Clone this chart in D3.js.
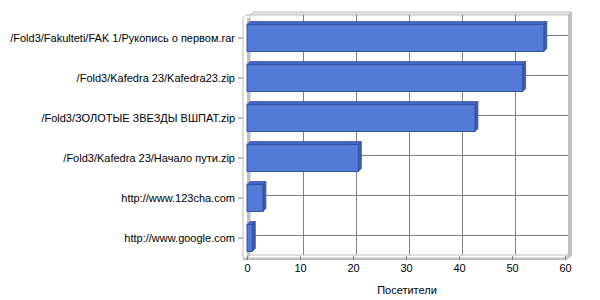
<!DOCTYPE html>
<html>
<head>
<meta charset="utf-8">
<script src="https://cdn.jsdelivr.net/npm/d3@7"></script>
<style>
  body { margin: 0; background: #fff; }
  text { font-family: "Liberation Sans", Arial, sans-serif; font-size: 11px; fill: #000; }
</style>
</head>
<body>
<div class="chart"></div>
<script>
// chart data
var categories = [
    "/Fold3/Fakulteti/FAK 1/Рукопись о первом.rar",
    "/Fold3/Kafedra 23/Kafedra23.zip",
    "/Fold3/ЗОЛОТЫЕ ЗВЕЗДЫ ВШПАТ.zip",
    "/Fold3/Kafedra 23/Начало пути.zip",
    "http://www.123cha.com",
    "http://www.google.com"
];
var visitors = [56, 52, 43, 21, 3, 1];
var xTicks = [0, 10, 20, 30, 40, 50, 60];
var xTitle = "Посетители";

var svgWidth = 600;
var svgHeight = 300;

// front plane of the 3d box, depth shifts things right and up
// (not called "top" - that one belongs to window)
var plotLeft = 247, plotRight = 565, plotTop = 18, plotBottom = 258;
var dx = 3, dy = -3;

var svg = d3.select(".chart")
    .append("svg")
    .attr("width", svgWidth)
    .attr("height", svgHeight);

var xScale = d3.scaleLinear().domain([0, 60]).range([plotLeft, plotRight]);
var yScale = d3.scaleBand().domain(categories).range([plotTop, plotBottom])
    .paddingInner(0.325).paddingOuter(0.1625);

var frame = svg.append("g");

// back wall
frame.append("rect")
    .attr("x", plotLeft + dx).attr("y", plotTop + dy)
    .attr("width", plotRight - plotLeft).attr("height", plotBottom - plotTop)
    .attr("fill", "#fff");

// top edge and right edge of the back wall (thickness)
frame.append("polygon")
    .attr("points", [[plotLeft + dx, plotTop + dy], [plotLeft + dx + 3, plotTop + dy - 3], [plotRight + dx + 4, plotTop + dy - 3], [plotRight + dx, plotTop + dy]].join(" "))
    .attr("fill", "#e4e4e4").attr("stroke", "#c0c0c0").attr("stroke-width", 1);
frame.append("polygon")
    .attr("points", [[plotRight + dx, plotTop + dy], [plotRight + dx + 4, plotTop + dy - 3], [plotRight + dx + 4, plotBottom + dy - 1], [plotRight + dx, plotBottom + dy + 2]].join(" "))
    .attr("fill", "#c0c0c0");

// vertical gridlines on the back wall
frame.selectAll(".vgrid")
    .data(xTicks.slice(1, -1))
    .enter()
    .append("line")
    .attr("x1", function (d) { return xScale(d) + dx + 0.5; })
    .attr("x2", function (d) { return xScale(d) + dx + 0.5; })
    .attr("y1", plotTop + dy)
    .attr("y2", plotBottom + dy)
    .attr("stroke", "#808080");

// horizontal gridlines at category centres
frame.selectAll(".hgrid")
    .data(categories)
    .enter()
    .append("line")
    .attr("x1", plotLeft + dx)
    .attr("x2", plotRight + dx)
    .attr("y1", function (d) { return Math.round(yScale(d) + yScale.bandwidth() / 2 + dy) + 0.5; })
    .attr("y2", function (d) { return Math.round(yScale(d) + yScale.bandwidth() / 2 + dy) + 0.5; })
    .attr("stroke", "#808080");

// left wall
frame.append("polygon")
    .attr("points", [[plotLeft - 4, plotTop], [plotLeft - 4 + dx, plotTop + dy], [plotLeft + dx, plotTop + dy], [plotLeft + dx, plotBottom + dy], [plotLeft, plotBottom], [plotLeft - 4, plotBottom]].join(" "))
    .attr("fill", "#fff").attr("stroke", "#c0c0c0");
frame.append("rect")
    .attr("x", plotLeft).attr("y", plotTop)
    .attr("width", dx).attr("height", plotBottom - plotTop)
    .attr("fill", "#c0c0c0");

// floor
frame.append("polygon")
    .attr("points", [[plotLeft, plotBottom], [plotLeft + dx, plotBottom + dy], [plotRight + dx, plotBottom + dy], [plotRight, plotBottom]].join(" "))
    .attr("fill", "#fff").attr("stroke", "#c0c0c0");
frame.append("polygon")
    .attr("points", [[plotLeft - 4, plotBottom], [plotRight, plotBottom], [plotRight + dx + 4, plotBottom + dy - 1], [plotRight + dx + 4, plotBottom + dy + 1], [plotRight + 1, plotBottom + 2], [plotLeft - 4, plotBottom + 2]].join(" "))
    .attr("fill", "#c0c0c0");

// bars
var bars = svg.selectAll(".bar")
    .data(visitors)
    .enter()
    .append("g")
    .attr("class", "bar");

bars.append("polygon")
    .attr("points", function (d, i) {
        var y0 = yScale(categories[i]), x1 = xScale(d);
        return [[plotLeft, y0], [plotLeft + dx, y0 + dy], [x1 + dx, y0 + dy], [x1, y0]].join(" ");
    })
    .attr("fill", "#4668c4").attr("stroke", "#3a58a8").attr("stroke-width", 0.8);

bars.append("polygon")
    .attr("points", function (d, i) {
        var y0 = yScale(categories[i]), y1 = y0 + yScale.bandwidth(), x1 = xScale(d);
        return [[x1, y0], [x1 + dx, y0 + dy], [x1 + dx, y1 + dy], [x1, y1]].join(" ");
    })
    .attr("fill", "#3b5aa8").attr("stroke", "#34509a").attr("stroke-width", 0.8);

bars.append("rect")
    .attr("x", plotLeft)
    .attr("y", function (d, i) { return yScale(categories[i]); })
    .attr("width", function (d) { return xScale(d) - plotLeft; })
    .attr("height", yScale.bandwidth())
    .attr("fill", "#517bd6")
    .attr("stroke", "#3552a4");

// category axis
var yAxis = d3.axisLeft(yScale).tickSize(5).tickPadding(3);
var yAxisG = svg.append("g")
    .attr("transform", `translate(${plotLeft - 4},0)`)
    .call(yAxis);
yAxisG.select(".domain").remove();
yAxisG.selectAll("line").attr("stroke", "#808080");
yAxisG.selectAll("text").attr("font-size", null).attr("font-family", null);

// value axis
var xAxis = d3.axisBottom(xScale).tickValues(xTicks).tickSize(4).tickPadding(4);
var xAxisG = svg.append("g")
    .attr("transform", `translate(0,${plotBottom - 2})`)
    .call(xAxis);
xAxisG.select(".domain").remove();
xAxisG.selectAll("line").attr("stroke", "#808080");
xAxisG.selectAll("text").attr("font-size", null).attr("font-family", null);

// axis title
svg.append("text")
    .attr("x", 407)
    .attr("y", 294)
    .attr("text-anchor", "middle")
    .text(xTitle);
</script>
</body>
</html>
